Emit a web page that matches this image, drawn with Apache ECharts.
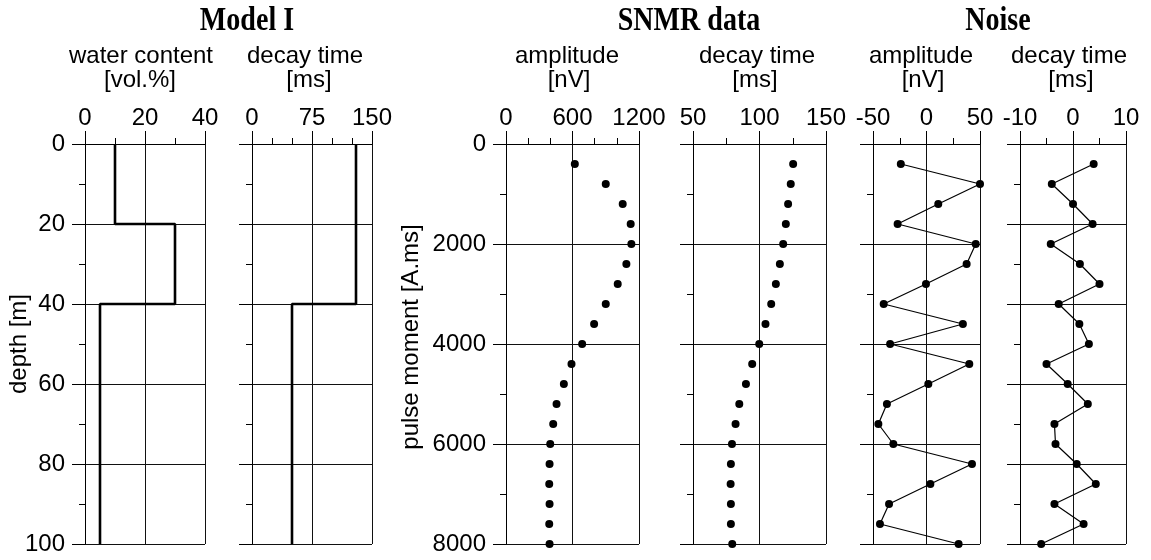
<!DOCTYPE html>
<html><head><meta charset="utf-8">
<script src="https://cdn.jsdelivr.net/npm/echarts@6/dist/echarts.min.js"></script>
<style>html,body{margin:0;padding:0;background:#fff}#c{width:1151px;height:560px}</style>
</head><body><div id="c"></div>
<script>
// ---- data ----
const layerTop = [0, 20, 40];
const layerBottom = [20, 40, 100];
const modelWater = [10, 30, 5];
const modelDecay = [130, 130, 50];
const pulseMoments = [400, 800, 1200, 1600, 2000, 2400, 2800, 3200, 3600, 4000,
  4400, 4800, 5200, 5600, 6000, 6400, 6800, 7200, 7600, 8000];
const snmrAmplitude = [621, 900, 1053, 1125, 1131, 1086, 1008, 900, 795, 687,
  591, 522, 456, 426, 399, 393, 390, 393, 390, 393];
const snmrDecay = [125.3, 123.5, 121.5, 119.8, 117.8, 115.3, 112.3, 108.8, 104.5, 99.8,
  94.5, 89.8, 84.8, 82, 79.3, 78.5, 78.3, 78.5, 78.5, 79.5];
const noiseAmplitude = [-24, 50, 11, -27, 46, 37.5, -0.5, -40, 34, -34,
  40, 1.7, -37, -45, -31, 42.5, 3.6, -35, -43.5, 30];
const noiseDecay = [3.9, -4.0, 0, 3.7, -4.2, 1.3, 5.0, -2.7, 1.2, 3.0,
  -5.0, -1.0, 2.8, -3.5, -3.3, 0.7, 4.3, -3.5, 2.0, -6.0];
const xTicks = {
  water: [0, 40, 20], decayModel: [0, 150, 75], amp: [0, 1200, 600],
  decay: [50, 150, 50], noiseAmp: [-50, 50, 50], noiseDecay: [-10, 10, 10]
};

// ---- helpers ----
function stepLine(vals) {
  const pts = [];
  vals.forEach((v, i) => { pts.push([v, layerTop[i]]); pts.push([v, layerBottom[i]]); });
  return pts;
}
function pairs(xs) { return xs.map((v, i) => [v, pulseMoments[i]]); }

const BLACK = '#000';
const GRID_COLOR = '#111';
const TOP = 144, H = 400;
const grids = [
  {left: 85, width: 120}, {left: 252, width: 120},
  {left: 506, width: 133}, {left: 693, width: 133},
  {left: 873, width: 107}, {left: 1020, width: 106}
].map(g => Object.assign({top: TOP, height: H, outerBoundsMode: 'none', containLabel: false}, g));

function xAx(gi, t, minorSplit) {
  return {
    type: 'value', gridIndex: gi, position: 'top', min: t[0], max: t[1], interval: t[2],
    axisLine: {show: true, onZero: false, lineStyle: {color: BLACK, width: 1}},
    axisTick: {show: true, inside: false, length: 13, lineStyle: {color: BLACK, width: 1}},
    minorTick: {show: true, splitNumber: minorSplit, length: 6, lineStyle: {color: BLACK, width: 1}},
    splitLine: {show: true, lineStyle: {color: GRID_COLOR, width: 1}},
    minorSplitLine: {show: false},
    axisLabel: {show: true, margin: 14, color: BLACK, fontSize: 24, fontFamily: 'Liberation Sans',
      showMinLabel: true, showMaxLabel: true, formatter: v => String(v)}
  };
}
function yAx(gi, max, interval, showLabels) {
  return {
    type: 'value', gridIndex: gi, position: 'left', inverse: true, min: 0, max: max, interval: interval,
    axisLine: {show: true, onZero: false, lineStyle: {color: BLACK, width: 1}},
    axisTick: {show: true, inside: false, length: 13, lineStyle: {color: BLACK, width: 1}},
    minorTick: {show: true, splitNumber: 2, length: 6, lineStyle: {color: BLACK, width: 1}},
    splitLine: {show: true, lineStyle: {color: GRID_COLOR, width: 1}},
    minorSplitLine: {show: false},
    axisLabel: {show: showLabels, margin: 20, color: BLACK, fontSize: 24, fontFamily: 'Liberation Sans',
      showMinLabel: true, showMaxLabel: true, formatter: v => String(v)}
  };
}

const xAxes = [
  xAx(0, xTicks.water, 2), xAx(1, xTicks.decayModel, 3), xAx(2, xTicks.amp, 3),
  xAx(3, xTicks.decay, 2), xAx(4, xTicks.noiseAmp, 2), xAx(5, xTicks.noiseDecay, 2)
];
const yAxes = [
  yAx(0, 100, 20, true), yAx(1, 100, 20, false), yAx(2, 8000, 2000, true),
  yAx(3, 8000, 2000, false), yAx(4, 8000, 2000, false), yAx(5, 8000, 1600, false)
];

const sans = '24px "Liberation Sans", Arial, sans-serif';
const serifB = 'bold 33px "Liberation Serif", "Times New Roman", serif';
function txt(x, y, s, font, rot, sx) {
  return {type: 'text', x: x, y: y, rotation: rot || 0, scaleX: sx || 1, silent: true,
    style: {text: s, font: font, fill: BLACK, align: 'center', verticalAlign: 'middle'}};
}

const graphics = [
  txt(247, 21, 'Model I', serifB, 0, 0.85), txt(689, 21, 'SNMR data', serifB, 0, 0.85),
  txt(998, 21, 'Noise', serifB, 0, 0.85),
  txt(141, 56, 'water content', sans), txt(140, 80, '[vol.%]', sans),
  txt(305, 56, 'decay time', sans), txt(309, 80, '[ms]', sans),
  txt(567, 56, 'amplitude', sans), txt(569, 80, '[nV]', sans),
  txt(757, 56, 'decay time', sans), txt(755, 80, '[ms]', sans),
  txt(921, 56, 'amplitude', sans), txt(923, 80, '[nV]', sans),
  txt(1069, 56, 'decay time', sans), txt(1071, 80, '[ms]', sans),
  txt(19, 344, 'depth [m]', sans, Math.PI / 2),
  txt(411, 337, 'pulse moment [A.ms]', sans, Math.PI / 2)
];

const dot = {symbol: 'circle', symbolSize: 8, itemStyle: {color: BLACK, opacity: 1}};
const series = [
  {type: 'line', xAxisIndex: 0, yAxisIndex: 0, data: stepLine(modelWater), showSymbol: false,
    lineStyle: {color: BLACK, width: 2.6}, clip: false},
  {type: 'line', xAxisIndex: 1, yAxisIndex: 1, data: stepLine(modelDecay), showSymbol: false,
    lineStyle: {color: BLACK, width: 2.6}, clip: false},
  Object.assign({type: 'scatter', xAxisIndex: 2, yAxisIndex: 2, data: pairs(snmrAmplitude), clip: false}, dot),
  Object.assign({type: 'scatter', xAxisIndex: 3, yAxisIndex: 3, data: pairs(snmrDecay), clip: false}, dot),
  Object.assign({type: 'line', xAxisIndex: 4, yAxisIndex: 4, data: pairs(noiseAmplitude), clip: false,
    showSymbol: true, lineStyle: {color: BLACK, width: 1.2}}, dot),
  Object.assign({type: 'line', xAxisIndex: 5, yAxisIndex: 5, data: pairs(noiseDecay), clip: false,
    showSymbol: true, lineStyle: {color: BLACK, width: 1.2}}, dot)
];

const chart = echarts.init(document.getElementById('c'), null, {renderer: 'canvas'});
chart.setOption({
  animation: false,
  backgroundColor: '#fff',
  grid: grids,
  xAxis: xAxes,
  yAxis: yAxes,
  graphic: graphics,
  series: series
});
</script>
</body></html>
